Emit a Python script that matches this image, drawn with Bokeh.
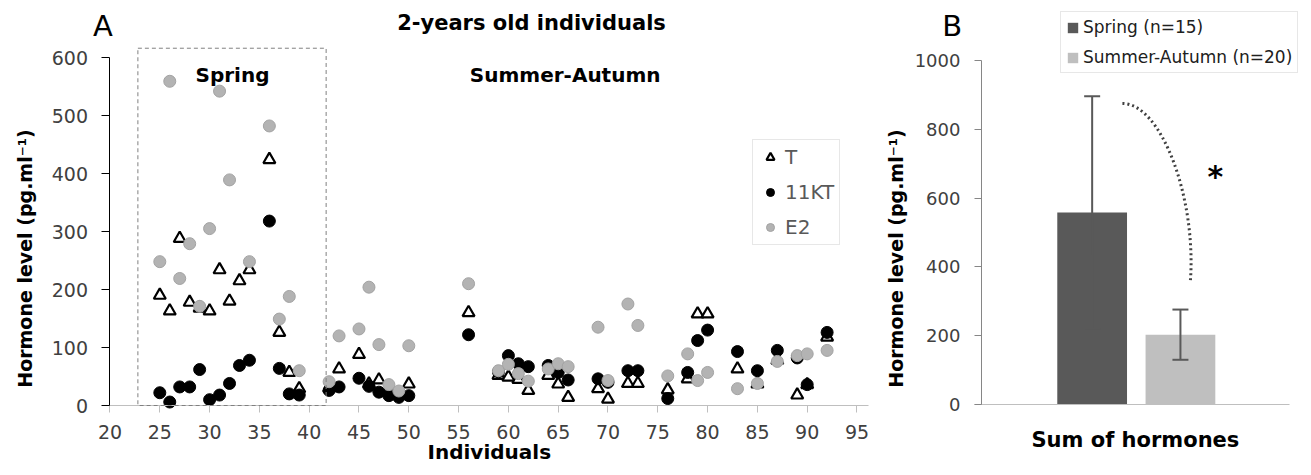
import numpy as np
from bokeh.plotting import figure
from bokeh.layouts import row
from bokeh.models import (Range1d, FixedTicker, Legend, LegendItem, Label,
                          ColumnDataSource, Whisker, TeeHead, BoxAnnotation)
from bokeh.embed import file_html
from bokeh.resources import INLINE

nan = float("nan")

# ---------------- data: panel A ----------------
individuals = [25, 26, 27, 28, 29, 30, 31, 32, 33, 34, 36, 37, 38, 39,
               42, 43, 45, 46, 47, 48, 49, 50, 56, 59, 60, 61, 62, 64, 65, 66,
               69, 70, 72, 73, 76, 78, 79, 80, 83, 85, 87, 89, 90, 92]
t_level = [190, 163, 288, 178, 168, 163, 234, 180, 215, 234, 424, 126, 57, 29,
           30, 63, 88, 37, 44, 28, 20, 37, 160, 52, 49, 45, 26, 52, 37, 14,
           29, 11, 38, 38, 27, 46, 158, 158, 63, 37, 78, 18, 36, 118]
kt_level = [22, 6, 32, 32, 62, 10, 18, 38, 69, 78, 318, 64, 20, 18,
            26, 32, 47, 33, 23, 17, 14, 17, 122, 58, 86, 72, 67, 69, 57, 44,
            46, 40, 60, 60, 12, 57, 112, 130, 93, 60, 95, 82, 36, 126]
e2_level = [248, 559, 219, 279, 171, 305, 542, 389, nan, 248, 482, 149, 188, 60,
            41, 120, 132, 204, 105, 36, 25, 103, 210, 60, 71, 55, 42, 63, 72, 67,
            135, 43, 175, 138, 51, 89, 43, 57, 29, 38, 76, 86, 89, 95]
hormones = ["T", "11KT", "E2"]
x_ticks = list(range(20, 96, 5))
y_ticks_a = list(range(0, 601, 100))
spring_window = (22.8, 41.7, 616)   # individuals spanned by the spring frame, frame top

# ---------------- data: panel B ----------------
groups = ["Spring (n=15)", "Summer-Autumn (n=20)"]
sum_mean = [558, 203]
sum_err = [338, 73]
y_ticks_b = list(range(0, 1001, 200))

FONT = "DejaVu Sans"
TICK_COL = "#404040"
YLABEL = "Hormone level (pg.ml\u207b\u00b9)"


def base_fig(width, xr, yr):
    f = figure(width=width, height=467, output_backend="svg", toolbar_location=None,
               x_range=xr, y_range=yr, min_border=0, min_border_left=0,
               min_border_right=0, min_border_top=0, min_border_bottom=0)
    f.outline_line_color = None
    f.grid.visible = False
    f.background_fill_color = "white"
    f.border_fill_color = "white"
    return f


def label(fig, x, y, text, size, bold=True, angle=0, color="black",
          baseline="middle"):
    fig.add_layout(Label(x=x, y=y, text=text, text_font=FONT,
                         text_font_size=size,
                         text_font_style="bold" if bold else "normal",
                         text_align="center", text_baseline=baseline,
                         angle=angle, text_color=color))


# ================= panel A =================
pa = base_fig(880, Range1d(9.006, 97.36), Range1d(-106.9, 698.3))

pa.add_layout(BoxAnnotation(left=spring_window[0], right=spring_window[1],
                            bottom=0, top=spring_window[2], fill_alpha=0,
                            line_color="#808080", line_alpha=1,
                            line_dash="4 3", line_width=1))

src = ColumnDataSource(dict(x=np.array(individuals, dtype=float),
                            t=np.array(t_level, dtype=float),
                            kt=np.array(kt_level, dtype=float),
                            e2=np.array(e2_level, dtype=float)))
r_t = pa.scatter("x", "t", source=src, marker="triangle", size=12,
                 fill_color="white", line_color="black", line_width=2.2)
r_kt = pa.scatter("x", "kt", source=src, marker="circle", size=12,
                  fill_color="black", line_color="black")
r_e2 = pa.scatter("x", "e2", source=src, marker="circle", size=12,
                  fill_color="#b3b3b3", line_color="#a3a3a3")

leg_a = Legend(items=[LegendItem(label=hormones[0], renderers=[r_t]),
                      LegendItem(label=hormones[1], renderers=[r_kt]),
                      LegendItem(label=hormones[2], renderers=[r_e2])],
               location=(752, 222), margin=0, padding=5, spacing=11,
               glyph_width=24, glyph_height=20, label_height=20,
               label_standoff=3, label_text_font=FONT,
               label_text_font_size="20px", label_text_color="#595959",
               border_line_color="#d0d0d0", border_line_width=1,
               background_fill_color="white", background_fill_alpha=1)
pa.add_layout(leg_a)

pa.xaxis.fixed_location = 0
pa.xaxis.bounds = (20, 96.15)
pa.xaxis.ticker = FixedTicker(ticks=x_ticks)
pa.xaxis.axis_line_color = "#bfbfbf"
pa.xaxis.major_tick_line_color = "#bfbfbf"
pa.xaxis.major_tick_in = 0
pa.xaxis.major_tick_out = 7
pa.xaxis.minor_tick_line_color = None
pa.xaxis.major_label_text_font = FONT
pa.xaxis.major_label_text_font_size = "19px"
pa.xaxis.major_label_text_color = TICK_COL
pa.xaxis.major_label_standoff = 12

pa.yaxis.fixed_location = 20
pa.yaxis.bounds = (0, 600)
pa.yaxis.ticker = FixedTicker(ticks=y_ticks_a)
pa.yaxis.axis_line_color = "black"
pa.yaxis.major_tick_line_color = "black"
pa.yaxis.major_tick_in = 0
pa.yaxis.major_tick_out = 8
pa.yaxis.minor_tick_line_color = None
pa.yaxis.major_label_text_font = FONT
pa.yaxis.major_label_text_font_size = "19px"
pa.yaxis.major_label_text_color = TICK_COL
pa.yaxis.major_label_standoff = 14

label(pa, 58.08, -79.5, "Individuals", "20px")
label(pa, 11.42, 253.4, YLABEL, "19px", angle=np.pi / 2)
label(pa, 62.32, 660.3, "2-years old individuals", "21px")
label(pa, 32.3, 569, "Spring", "20px")
label(pa, 65.7, 569, "Summer-Autumn", "20px")
label(pa, 19.3, 655, "A", "29px", bold=False)

# ================= panel B =================
pb = base_fig(423, Range1d(-1.3975, 3.394), Range1d(-183.1, 1174.4))

xpos = [i + 1 for i in range(len(groups))]
src_b = ColumnDataSource(dict(
    x=xpos, top=sum_mean,
    upper=[m + e for m, e in zip(sum_mean, sum_err)],
    lower=[m - e for m, e in zip(sum_mean, sum_err)],
    color=["#595959", "#bfbfbf"], label=groups))
bars = pb.vbar(x="x", top="top", width=0.79, source=src_b,
               fill_color="color", line_color=None)

ERR_COL = "#595959"
wh = Whisker(source=src_b, base="x", upper="upper", lower="lower",
             line_color=ERR_COL, line_width=2, level="overlay",
             upper_head=TeeHead(size=16, line_color=ERR_COL, line_width=2),
             lower_head=TeeHead(size=16, line_color=ERR_COL, line_width=2))
pb.add_layout(wh)

leg_b = Legend(items=[LegendItem(label=groups[0], renderers=[bars], index=0),
                      LegendItem(label=groups[1], renderers=[bars], index=1)],
               location=(180, 394), margin=0, padding=5, spacing=10,
               glyph_width=13, glyph_height=13, label_height=20,
               label_standoff=4, label_text_font=FONT,
               label_text_font_size="17px", label_text_color="#202020",
               border_line_color="#d0d0d0", border_line_width=1,
               background_fill_color="white", background_fill_alpha=1)
pb.add_layout(leg_b)

# significance bracket between the two groups
pb.bezier(x0=1.343, y0=875, x1=2.113, y1=360, cx0=1.785, cy0=875,
          cx1=2.18, cy1=600, line_color="#404040", line_width=3,
          line_dash="2 3")
label(pb, 2.396, 664, "*", "30px")
label(pb, -0.5855, 1099.4, "B", "29px", bold=False)

pb.xaxis.fixed_location = 0
pb.xaxis.bounds = (-0.333, 3.2344)
pb.xaxis.ticker = FixedTicker(ticks=[])
pb.xaxis.axis_line_color = "#bfbfbf"
pb.xaxis.major_tick_line_color = None
pb.xaxis.minor_tick_line_color = None
pb.xaxis.major_tick_out = 0

pb.yaxis.fixed_location = -0.2537
pb.yaxis.bounds = (0, 1000)
pb.yaxis.ticker = FixedTicker(ticks=y_ticks_b)
pb.yaxis.axis_line_color = "#868686"
pb.yaxis.major_tick_line_color = "#868686"
pb.yaxis.major_tick_in = 0
pb.yaxis.major_tick_out = 7
pb.yaxis.minor_tick_line_color = None
pb.yaxis.major_label_text_font = FONT
pb.yaxis.major_label_text_font_size = "18px"
pb.yaxis.major_label_text_color = TICK_COL
pb.yaxis.major_label_standoff = 14

label(pb, 1.490, -103.2, "Sum of hormones", "21px")
label(pb, -1.2163, 424.4, YLABEL, "19px", angle=np.pi / 2)

layout = row(pa, pb)
open("out.html", "w").write(file_html(layout, INLINE))
